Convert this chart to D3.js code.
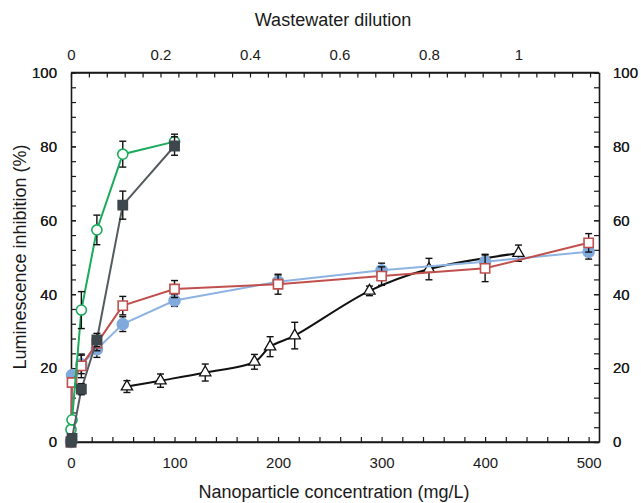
<!DOCTYPE html>
<html><head><meta charset="utf-8">
<script src="https://cdn.jsdelivr.net/npm/d3@7"></script>
<style>
body{margin:0;background:#fff;}
svg{display:block;font-family:"Liberation Sans",Arial,sans-serif;}
</style></head>
<body><svg id="c" width="641" height="503"></svg>
<script>
// ---- data ----
const greenX = [0, 1, 10, 25, 50, 100];
const greenY = [3.4, 6, 35.7, 57.4, 77.9, 81.3];
const greenE = [0.5, 0.5, 5, 4, 3.5, 2];

const darkX = [0, 1, 10, 25, 50, 100];
const darkY = [0, 1, 14.3, 27.6, 64.1, 80.1];
const darkE = [0.5, 0.5, 1.5, 1.8, 3.8, 2.5];

const redX = [0, 1, 10, 25, 50, 100, 200, 300, 400, 500];
const redY = [0, 16.1, 20.6, 26.7, 36.9, 41.4, 42.7, 44.9, 47.0, 53.9];
const redE = [0, 1, 3.2, 2, 2.5, 2.3, 2.7, 2.5, 3.6, 2.5];

const blueX = [0, 1, 10, 25, 50, 100, 200, 300, 400, 500];
const blueY = [0, 18.1, 21.0, 25.1, 31.9, 38.3, 43.4, 46.5, 48.8, 51.5];
const blueE = [0, 1, 2.5, 2.2, 2, 1.6, 1.8, 1.9, 2, 2];

const triX = [0.125, 0.2, 0.3, 0.41, 0.445, 0.5, 0.667, 0.8, 1.0];   // wastewater dilution (top axis)
const triY = [15.0, 16.6, 18.8, 21.7, 25.8, 28.8, 40.9, 46.8, 51.1];
const triE = [1.6, 1.8, 2.3, 2.0, 2.7, 3.6, 1.3, 2.9, 2.2];

const bottomTicks = [0, 100, 200, 300, 400, 500];
const topTicks = [0, 0.2, 0.4, 0.6, 0.8, 1];
const yTicks = [0, 20, 40, 60, 80, 100];

// ---- layout ----
const L = 71, R = 599, T = 72.5, B = 442;
const svg = d3.select("#c");
const x = d3.scaleLinear().domain([0, 510]).range([L, R]);
const xTop = d3.scaleLinear().domain([0, 1.18]).range([L, R]);
const y = d3.scaleLinear().domain([0, 100]).range([B, T]);

const fs = 15, tfs = 18;
function fmtMajor(majors){ return d => majors.some(m => Math.abs(m - d) < 1e-9) ? d3.format("~g")(d) : ""; }

const xMinor = d3.range(0, 501, 20);
const topMinor = d3.range(0, 1.17, 0.04).map(v => +v.toFixed(2));
const yMinor = d3.range(0, 101, 4).concat(yTicks);

function styleAxis(g){
  g.selectAll("path.domain").attr("stroke", "#1a1a1a").attr("stroke-width", 1.6);
  g.selectAll(".tick line").attr("stroke", "#1a1a1a").attr("stroke-width", 1.2);
  g.selectAll("text").attr("font-size", fs).attr("fill", "#1a1a1a").attr("font-family", '"Liberation Sans",Arial,sans-serif');
}

svg.append("g").attr("transform", `translate(0,${B})`)
  .call(d3.axisBottom(x).tickValues(xMinor).tickFormat(fmtMajor(bottomTicks)).tickSizeInner(-5).tickSizeOuter(0).tickPadding(15))
  .call(styleAxis);
svg.append("g").attr("transform", `translate(0,${T})`)
  .call(d3.axisTop(xTop).tickValues(topMinor).tickFormat(fmtMajor(topTicks)).tickSizeInner(-5).tickSizeOuter(0).tickPadding(13))
  .call(styleAxis);
svg.append("g").attr("transform", `translate(${L},0)`)
  .call(d3.axisLeft(y).tickValues(yMinor).tickFormat(fmtMajor(yTicks)).tickSizeInner(-5).tickSizeOuter(0).tickPadding(14))
  .call(styleAxis);
svg.append("g").attr("transform", `translate(${R},0)`)
  .call(d3.axisRight(y).tickValues(yMinor).tickFormat(fmtMajor(yTicks)).tickSizeInner(-5).tickSizeOuter(0).tickPadding(14))
  .call(styleAxis);
svg.append("line").attr("x1", L).attr("x2", R).attr("y1", T).attr("y2", T).attr("stroke", "#1a1a1a").attr("stroke-width", 1.6);
svg.append("line").attr("x1", L).attr("x2", R).attr("y1", B).attr("y2", B).attr("stroke", "#1a1a1a").attr("stroke-width", 1.6);

// titles
svg.append("text").attr("x", 333).attr("y", 26).attr("text-anchor", "middle").attr("font-size", tfs).attr("fill", "#1a1a1a").text("Wastewater dilution");
svg.append("text").attr("x", 334).attr("y", 498).attr("text-anchor", "middle").attr("font-size", tfs).attr("fill", "#1a1a1a").text("Nanoparticle concentration (mg/L)");
svg.append("text").attr("transform", "translate(26,257) rotate(-90)").attr("text-anchor", "middle").attr("font-size", tfs).attr("fill", "#1a1a1a").text("Luminescence inhibition (%)");

// ---- series ----
function series(xs, ys, es, sx, opt){
  const pts = xs.map((v, i) => ({x: sx(v), y: y(ys[i]), lo: y(ys[i] - es[i]), hi: y(ys[i] + es[i]), e: es[i]}));
  const g = svg.append("g");
  g.append("path").datum(pts)
    .attr("d", d3.line().x(d => d.x).y(d => d.y).curve(opt.curve || d3.curveLinear))
    .attr("fill", "none").attr("stroke", opt.color).attr("stroke-width", 2);
  const eb = g.selectAll("g.eb").data(pts.filter(d => d.e > 0.8)).join("g");
  eb.append("line").attr("x1", d => d.x).attr("x2", d => d.x).attr("y1", d => d.lo).attr("y2", d => d.hi).attr("stroke", "#111").attr("stroke-width", 1.4);
  eb.append("line").attr("x1", d => d.x - 3.5).attr("x2", d => d.x + 3.5).attr("y1", d => d.lo).attr("y2", d => d.lo).attr("stroke", "#111").attr("stroke-width", 1.4);
  eb.append("line").attr("x1", d => d.x - 3.5).attr("x2", d => d.x + 3.5).attr("y1", d => d.hi).attr("y2", d => d.hi).attr("stroke", "#111").attr("stroke-width", 1.4);
  const sym = d3.symbol().type(opt.symbol).size(opt.size);
  g.selectAll("path.m").data(pts).join("path").attr("class", "m")
    .attr("transform", d => `translate(${d.x},${d.y})`)
    .attr("d", sym)
    .attr("fill", opt.fill).attr("stroke", opt.stroke).attr("stroke-width", opt.sw || 1.6);
}

series(triX, triY, triE, xTop, {color: "#111", symbol: d3.symbolTriangle, size: 55, fill: "#fff", stroke: "#111", curve: d3.curveCatmullRom, sw: 1.3});
series(blueX, blueY, blueE, x, {color: "#8db3e2", symbol: d3.symbolCircle, size: 95, fill: "#80aadb", stroke: "#80aadb"});
series(redX, redY, redE, x, {color: "#c0504d", symbol: d3.symbolSquare, size: 85, fill: "#fff", stroke: "#c0504d"});
series(greenX, greenY, greenE, x, {color: "#1aab5c", symbol: d3.symbolCircle, size: 80, fill: "#fff", stroke: "#1aab5c"});
series(darkX, darkY, darkE, x, {color: "#545c60", symbol: d3.symbolSquare, size: 85, fill: "#3d474c", stroke: "#3d474c"});
</script></body></html>
